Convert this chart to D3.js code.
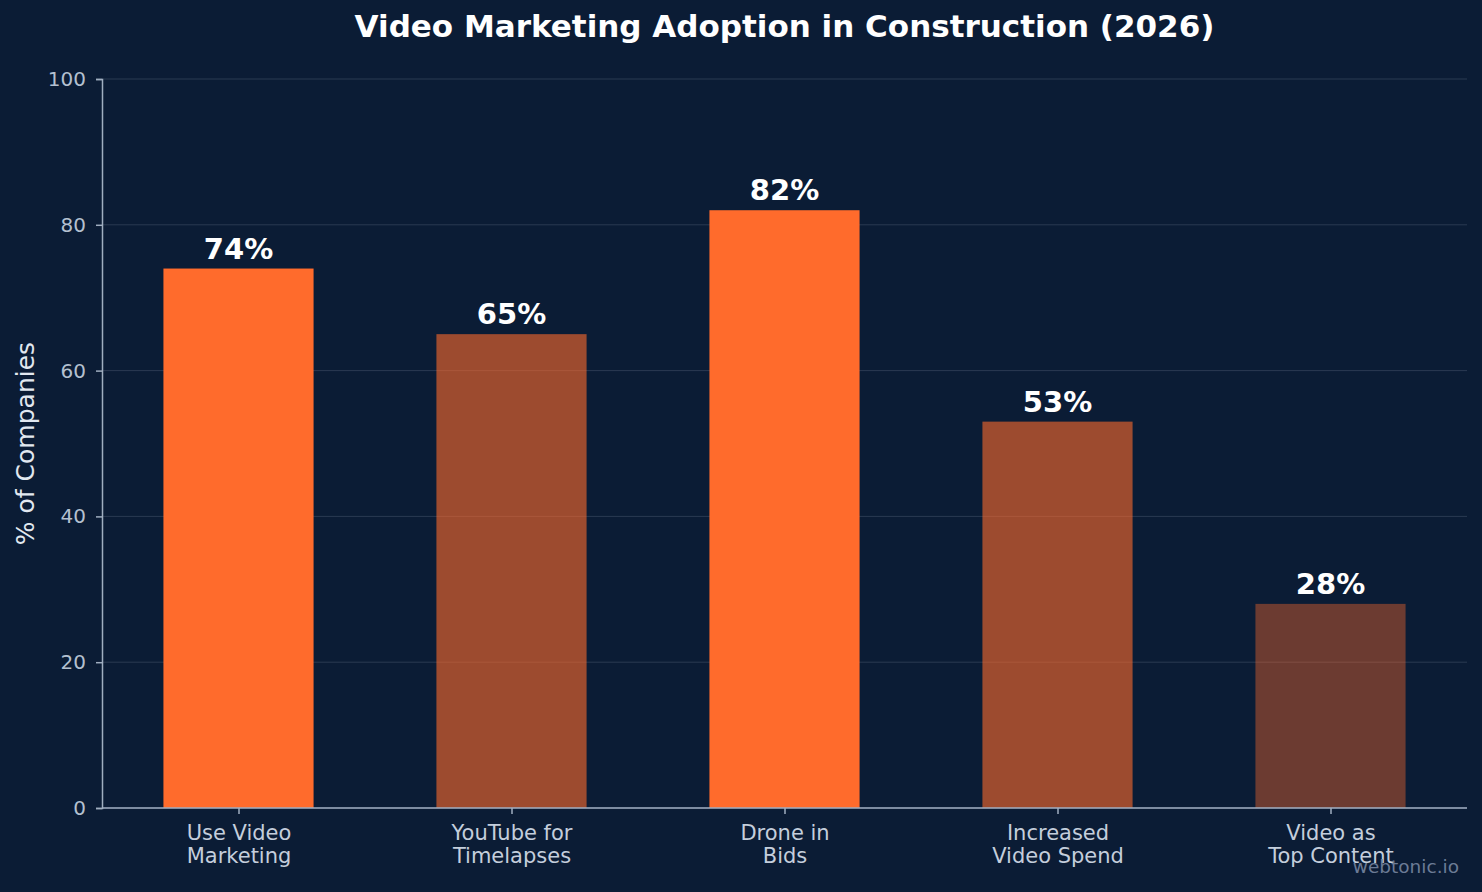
<!DOCTYPE html>
<html>
<head>
<meta charset="utf-8">
<script src="https://cdn.jsdelivr.net/npm/d3@7"></script>
<style>
  html, body { margin: 0; padding: 0; background: #0b1c35; }
  svg { display: block; font-family: "DejaVu Sans", sans-serif; }
</style>
</head>
<body>
<svg id="chart" width="1482" height="892"></svg>
<script>
// data
const categories = ["Use Video\nMarketing", "YouTube for\nTimelapses", "Drone in\nBids", "Increased\nVideo Spend", "Video as\nTop Content"];
const values = [74, 65, 82, 53, 28];
const yTicks = [0, 20, 40, 60, 80, 100];

let width = 1482, height = 892;
let margin = {top: 79, right: 15, bottom: 84, left: 102};

let svg = d3.select("#chart");

svg.append("rect")
        .attr("width", width)
        .attr("height", height)
        .attr("fill", "#0b1c35");

let x = d3.scalePoint()
        .domain(categories)
        .range([margin.left, width - margin.right])
        .padding(0.5);

let y = d3.scaleLinear()
        .domain([0, 100])
        .range([height - margin.bottom, margin.top]);

let barW = x.step() * 0.55;

// brighter bars for the higher numbers
let barOpacity = v => v >= 70 ? 1 : (v >= 50 ? 0.6 : 0.4);

// grid
svg.append("g")
        .selectAll("line")
        .data(yTicks)
        .join("line")
        .attr("x1", margin.left)
        .attr("x2", width - margin.right)
        .attr("y1", d => y(d))
        .attr("y2", d => y(d))
        .attr("stroke", "#2a3a52")
        .attr("stroke-width", 1);

// bars
svg.append("g")
        .selectAll("rect")
        .data(values)
        .join("rect")
        .attr("x", (d, i) => x(categories[i]) - barW / 2)
        .attr("y", d => y(d))
        .attr("width", barW)
        .attr("height", d => y(0) - y(d))
        .attr("fill", "#ff6b2c")
        .attr("fill-opacity", d => barOpacity(d));

// value labels
svg.append("g")
        .selectAll("text")
        .data(values)
        .join("text")
        .attr("x", (d, i) => x(categories[i]))
        .attr("y", d => y(d) - 10)
        .attr("text-anchor", "middle")
        .attr("fill", "#ffffff")
        .style("font-size", "29px")
        .style("font-weight", "bold")
        .text(d => d + "%");

// y axis
let yAxis = svg.append("g")
        .attr("transform", `translate(${margin.left},0)`)
        .call(d3.axisLeft(y).tickValues(yTicks).tickSize(6).tickPadding(10).tickFormat(d3.format("d")));
yAxis.select(".domain").attr("stroke", "#a0aec0").attr("stroke-width", 1.5);
yAxis.selectAll(".tick line").attr("stroke", "#a0aec0").attr("stroke-width", 1.5);
yAxis.selectAll(".tick text")
        .attr("fill", "#b4c0d0")
        .style("font-size", "20px")
        .style("font-family", "DejaVu Sans, sans-serif");

// x axis
let xAxis = svg.append("g")
        .attr("transform", `translate(0,${height - margin.bottom})`)
        .call(d3.axisBottom(x).tickSize(6).tickSizeOuter(0));
xAxis.select(".domain").attr("stroke", "#a0aec0").attr("stroke-width", 1.5)
        .attr("d", `M${margin.left},0H${width - margin.right}`);
xAxis.selectAll(".tick line").attr("stroke", "#a0aec0").attr("stroke-width", 1.5);
xAxis.selectAll(".tick text").remove();
xAxis.selectAll(".tick").append("text")
        .attr("fill", "#c4cedc")
        .attr("text-anchor", "middle")
        .style("font-size", "21px")
        .style("font-family", "DejaVu Sans, sans-serif")
        .selectAll("tspan")
        .data(d => d.split("\n"))
        .join("tspan")
        .attr("x", 0)
        .attr("y", (d, i) => 32 + i * 23)
        .text(d => d);

// y label
svg.append("text")
        .attr("transform", `translate(34,${(margin.top + height - margin.bottom) / 2}) rotate(-90)`)
        .attr("text-anchor", "middle")
        .attr("fill", "#e2e8f0")
        .style("font-size", "25px")
        .text("% of Companies");

// title
svg.append("text")
        .attr("x", (margin.left + width - margin.right) / 2)
        .attr("y", 37)
        .attr("text-anchor", "middle")
        .attr("fill", "#ffffff")
        .style("font-size", "31px")
        .style("font-weight", "bold")
        .text("Video Marketing Adoption in Construction (2026)");

// watermark
svg.append("text")
        .attr("x", 1459)
        .attr("y", 873)
        .attr("text-anchor", "end")
        .attr("fill", "#6b7b95")
        .style("font-size", "18.5px")
        .text("webtonic.io");
</script>
</body>
</html>
